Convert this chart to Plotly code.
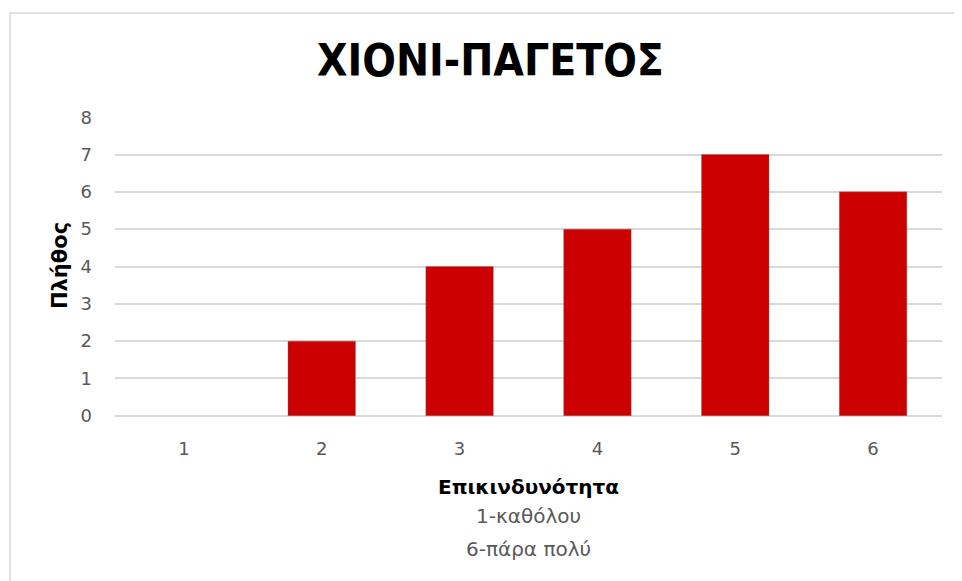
import plotly.graph_objects as go

categories = ["1", "2", "3", "4", "5", "6"]
counts = [0, 2, 4, 5, 7, 6]
y_ticks = [0, 1, 2, 3, 4, 5, 6, 7, 8]

title_text = "ΧΙΟΝΙ-ΠΑΓΕΤΟΣ"
y_title = "Πλήθος"
x_title = "Επικινδυνότητα"
x_sub1 = "1-καθόλου"
x_sub2 = "6-πάρα πολύ"

OFF = 8  # page body margin
W, H = 962, 581
L = 115 - OFF
T = 117 - OFF
plot_right = 942 - OFF
plot_bottom = 416 - OFF
R = W - plot_right
B = H - plot_bottom
pw, ph = plot_right - L, plot_bottom - T

def px_x(x):
    return (x - OFF - L) / pw

def px_y(y):
    return (plot_bottom - (y - OFF)) / ph

FONT = "DejaVu Sans"
GRAY = "#595959"
GRID = "#D9D9D9"

fig = go.Figure()
fig.add_trace(go.Bar(
    x=categories, y=counts,
    marker=dict(color="#CC0000",
                line=dict(color="rgba(120,120,120,0.35)",
                          width=[0 if v == 0 else 1 for v in counts])),
    width=0.49,
))

fig.update_layout(
    width=W, height=H,
    margin=dict(l=L, r=R, t=T, b=B),
    paper_bgcolor="white", plot_bgcolor="white",
    showlegend=False,
    xaxis=dict(type="category", showgrid=False, showline=False, ticks="",
               ticklabelstandoff=20,
               tickfont=dict(family=FONT, size=18, color=GRAY)),
    yaxis=dict(range=[-0.005, 8.005], tickvals=y_ticks, showgrid=True, gridcolor=GRID,
               gridwidth=1.5, zeroline=True, zerolinecolor=GRID, zerolinewidth=1.5,
               showline=False, ticks="",
               ticklabelstandoff=22,
               tickfont=dict(family=FONT, size=18, color=GRAY)),
    font=dict(family=FONT),
    annotations=[
        dict(text="<b>" + title_text + "</b>", xref="paper", yref="paper",
             x=px_x(490), y=px_y(61), showarrow=False, xanchor="center", yanchor="middle",
             font=dict(family="DejaVu Sans Condensed", size=44, color="black")),
        dict(text="<b>" + y_title + "</b>", xref="paper", yref="paper",
             x=px_x(60), y=px_y(266), textangle=-90, showarrow=False,
             xanchor="center", yanchor="middle",
             font=dict(family=FONT, size=21, color="black")),
        dict(text="<b>" + x_title + "</b>", xref="paper", yref="paper",
             x=0.5, y=px_y(487), showarrow=False, xanchor="center", yanchor="middle",
             font=dict(family=FONT, size=20, color="black")),
        dict(text=x_sub1, xref="paper", yref="paper",
             x=0.5, y=px_y(516), showarrow=False, xanchor="center", yanchor="middle",
             font=dict(family=FONT, size=20, color=GRAY)),
        dict(text=x_sub2, xref="paper", yref="paper",
             x=0.5, y=px_y(549), showarrow=False, xanchor="center", yanchor="middle",
             font=dict(family=FONT, size=20, color=GRAY)),
    ],
    shapes=[
        dict(type="rect", xref="paper", yref="paper",
             x0=px_x(10), x1=px_x(985), y0=px_y(600), y1=px_y(13),
             line=dict(color=GRID, width=1.5), fillcolor="rgba(0,0,0,0)", layer="below"),
    ],
)

fig.write_html("out.html")
